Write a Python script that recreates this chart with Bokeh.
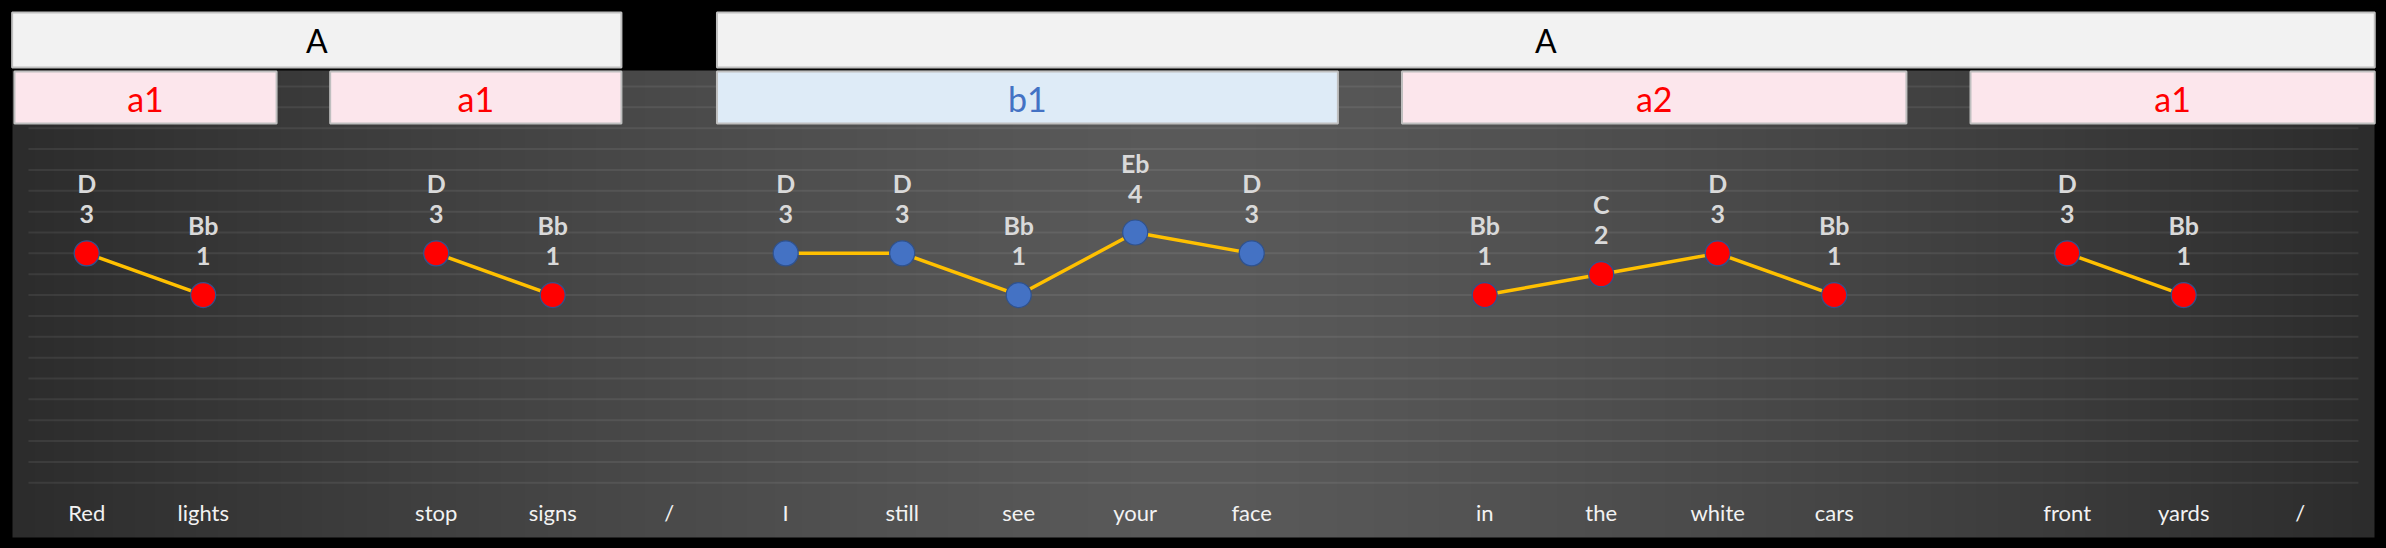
import numpy as np
from bokeh.plotting import figure
from bokeh.models import Range1d, ColumnDataSource, GlobalInlineStyleSheet
from bokeh.core.properties import value
from bokeh.embed import file_html
from bokeh.resources import INLINE

# ---------------- data ----------------
words = ["Red", "lights", "", "stop", "signs", "/", "I", "still", "see", "your", "face",
         "", "in", "the", "white", "cars", "", "front", "yards", "/"]
notes = ["D", "Bb", None, "D", "Bb", None, "D", "D", "Bb", "Eb", "D",
         None, "Bb", "C", "D", "Bb", None, "D", "Bb", None]
degrees = [3, 1, None, 3, 1, None, 3, 3, 1, 4, 3,
           None, 1, 2, 3, 1, None, 3, 1, None]

phrase_labels = ["a1", "a1", "b1", "a2", "a1"]
phrase_start = [-0.62, 2.09, 5.41, 11.29, 16.17]
phrase_end = [1.63, 4.59, 10.74, 15.62, 19.64]

form_labels = ["A", "A"]
form_start = [-0.64, 5.41]
form_end = [4.59, 19.64]

# ---------------- layout helpers (page pixels -> data units) ----------------
W, H = 2386, 548
X0, DX = 86.2, 116.5          # page x of category 0, pixels per category
YTOP, DY = 86.0, 20.858       # page y of top gridline (level 11), pixels per level
TOP_LEVEL = 11


def kx(X):
    return (X - X0) / DX


def dy(Y):
    return TOP_LEVEL - (Y - YTOP) / DY


n = len(words)
FONT = value("Lato")

p = figure(width=W, height=H, output_backend="svg", toolbar_location=None,
           x_range=Range1d(kx(0), kx(W)), y_range=Range1d(dy(H), dy(0)),
           x_axis_location=None, y_axis_location=None, min_border=0,
           background_fill_color="#000000", border_fill_color="#000000",
           outline_line_color=None)
p.grid.visible = False
p.stylesheets = [GlobalInlineStyleSheet(
    css="html, body { margin: 0 !important; padding: 0 !important; background-color: #000000; overflow: hidden; }")]

# ---------------- gradient background ----------------
cols = 1200
t = np.linspace(-1, 1, cols)
g = (0x2c + (0x5a - 0x2c) * (1 - np.abs(t) ** 1.3)).astype(np.uint8)
img = np.zeros((2, cols), dtype=np.uint32)
view = img.view(dtype=np.uint8).reshape((2, cols, 4))
view[:, :, 0] = g
view[:, :, 1] = g
view[:, :, 2] = g
view[:, :, 3] = 255
bx0, bx1 = kx(12), kx(2374)
by0, by1 = dy(537), dy(70)
p.image_rgba(image=[img], x=bx0, y=by0, dw=bx1 - bx0, dh=by1 - by0)

# ---------------- gridlines ----------------
levels = np.arange(-8, TOP_LEVEL + 1)
p.segment(x0=-0.5, x1=n - 0.5, y0=levels, y1=levels,
          line_color="#FFFFFF", line_alpha=0.075, line_width=2)

# ---------------- form boxes (A) ----------------
fsrc = ColumnDataSource(dict(left=form_start, right=form_end,
                             mid=[(a + b) / 2 for a, b in zip(form_start, form_end)],
                             label=form_labels))
p.quad(left="left", right="right", top=dy(12), bottom=dy(67), source=fsrc,
       fill_color="#F2F2F2", line_color="#BFBFBF", line_width=2)
p.text(x="mid", y=dy(40), text="label", source=fsrc, text_align="center",
       text_baseline="middle", text_font=FONT, text_font_size="32px",
       text_color="#000000")

# ---------------- phrase boxes ----------------
is_b = [lab.startswith("b") for lab in phrase_labels]
psrc = ColumnDataSource(dict(left=phrase_start, right=phrase_end,
                             mid=[(a + b) / 2 for a, b in zip(phrase_start, phrase_end)],
                             label=phrase_labels,
                             fill=["#DEEBF7" if b else "#FCE6EC" for b in is_b],
                             tcol=["#4472C4" if b else "#FF0000" for b in is_b]))
p.quad(left="left", right="right", top=dy(71), bottom=dy(123), source=psrc,
       fill_color="fill", line_color="#BFBFBF", line_width=2)
p.text(x="mid", y=dy(98), text="label", source=psrc, text_align="center",
       text_baseline="middle", text_font=FONT, text_font_size="34px",
       text_color="tcol")

# ---------------- melody line and points ----------------
xs = np.arange(n)
ys = np.array([np.nan if d is None else d for d in degrees], dtype=float)
p.line(xs, ys, line_color="#FFC000", line_width=3.5)


def phrase_of(k):
    for i, (a, b) in enumerate(zip(phrase_start, phrase_end)):
        if a <= k <= b:
            return i
    return 0


pts = [k for k in range(n) if degrees[k] is not None]
pcol = ["#4472C4" if is_b[phrase_of(k)] else "#FF0000" for k in pts]
ptsrc = ColumnDataSource(dict(x=pts, y=[degrees[k] for k in pts],
                              note=[notes[k] for k in pts],
                              num=[str(degrees[k]) for k in pts], col=pcol))
p.scatter(x="x", y="y", source=ptsrc, size=25, fill_color="col",
          line_color="#2F528F", line_width=1.2)
p.text(x="x", y="y", text="note", source=ptsrc, y_offset=-70, text_align="center",
       text_baseline="middle", text_font=FONT, text_font_style="bold",
       text_font_size="25px", text_color="#D9D9D9")
p.text(x="x", y="y", text="num", source=ptsrc, y_offset=-39, text_align="center",
       text_baseline="middle", text_font=FONT, text_font_style="bold",
       text_font_size="25px", text_color="#D9D9D9")

# ---------------- lyric words ----------------
wsrc = ColumnDataSource(dict(x=list(xs), w=words))
p.text(x="x", y=dy(512), text="w", source=wsrc, text_align="center",
       text_baseline="middle", text_font=FONT, text_font_size="22px",
       text_color="#F2F2F2")

open("out.html", "w").write(file_html(p, INLINE))
